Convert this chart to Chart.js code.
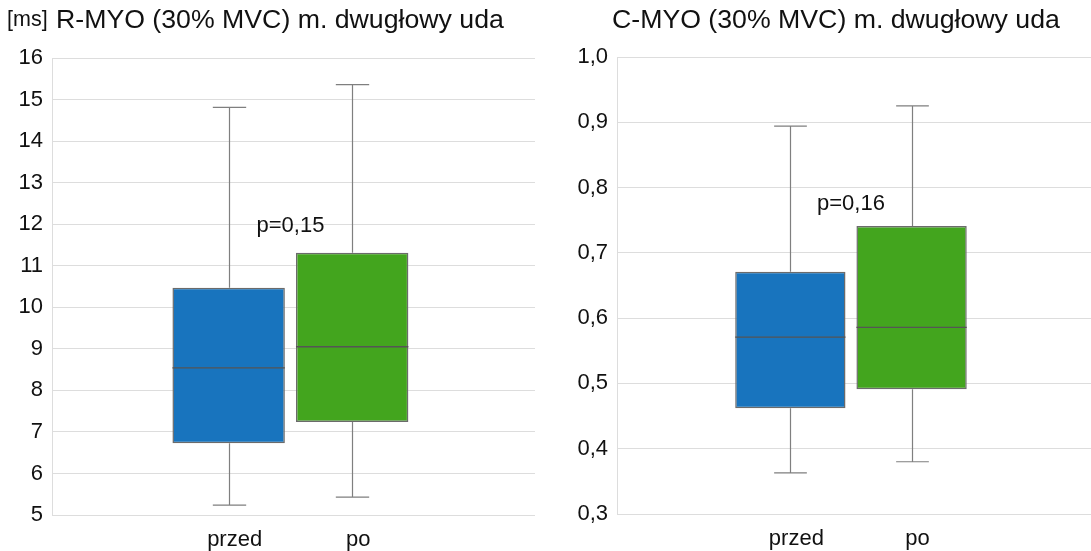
<!DOCTYPE html>
<html lang="pl">
<head>
<meta charset="utf-8">
<title>R-MYO / C-MYO m. dwugłowy uda</title>
<script src="https://cdn.jsdelivr.net/npm/chart.js@4.4.1/dist/chart.umd.min.js"></script>
<style>
    html, body { margin: 0; padding: 0; background: #fff; }
    #wrap { position: relative; width: 1091px; height: 551px; overflow: hidden; }
    #leftChart { position: absolute; left: 0; top: 0; }
    #rightChart { position: absolute; left: 545px; top: 0; }
</style>
</head>
<body>
<div id="wrap">
    <canvas id="leftChart" width="545" height="551"></canvas>
    <canvas id="rightChart" width="546" height="551"></canvas>
</div>
<script>
// Categories and box-plot statistics
const categories = ['przed', 'po'];

const rmyoMin = [5.24, 5.43];
const rmyoQ1 = [6.73, 7.24];
const rmyoMedian = [8.54, 9.05];
const rmyoQ3 = [10.47, 11.31];
const rmyoMax = [14.81, 15.36];

const cmyoMin = [0.363, 0.380];
const cmyoQ1 = [0.462, 0.491];
const cmyoMedian = [0.571, 0.586];
const cmyoQ3 = [0.671, 0.741];
const cmyoMax = [0.894, 0.925];

// Axis ranges / ticks
const rmyoTicks = { min: 5, max: 16, step: 1 };
const cmyoTicks = { min: 0.3, max: 1.0, step: 0.1 };

// Texts
const rmyoTitle = 'R-MYO (30% MVC) m. dwugłowy uda';
const rmyoUnit = '[ms]';
const cmyoTitle = 'C-MYO (30% MVC) m. dwugłowy uda';
const pLabels = ['p=0,15', 'p=0,16'];
const pLabelY = [11.95, 0.775];

const boxColors = ['#1874be', '#43a51e'];
const FONT = "'Liberation Sans', Arial, Helvetica, sans-serif";

// Whiskers, medians, titles and p-value label
const boxPlotPlugin = {
    id: 'boxPlot',
    beforeDatasetsDraw(chart, args, opts) {
        const ctx = chart.ctx;
        const x = chart.scales.x;
        const y = chart.scales.y;
        const capHalf = (x.getPixelForValue(1) - x.getPixelForValue(0)) * 0.135;
        ctx.save();
        ctx.strokeStyle = '#7f7f7f';
        ctx.lineWidth = 1.2;
        categories.forEach((c, i) => {
            const px = Math.round(x.getPixelForValue(i + 1)) + 0.5;
            ctx.beginPath();
            ctx.moveTo(px, y.getPixelForValue(opts.max[i]));
            ctx.lineTo(px, y.getPixelForValue(opts.q3[i]));
            ctx.moveTo(px, y.getPixelForValue(opts.q1[i]));
            ctx.lineTo(px, y.getPixelForValue(opts.min[i]));
            ctx.moveTo(px - capHalf, y.getPixelForValue(opts.max[i]));
            ctx.lineTo(px + capHalf, y.getPixelForValue(opts.max[i]));
            ctx.moveTo(px - capHalf, y.getPixelForValue(opts.min[i]));
            ctx.lineTo(px + capHalf, y.getPixelForValue(opts.min[i]));
            ctx.stroke();
        });
        ctx.restore();
    },
    afterDatasetsDraw(chart, args, opts) {
        const ctx = chart.ctx;
        const y = chart.scales.y;
        const meta = chart.getDatasetMeta(0);
        ctx.save();
        ctx.strokeStyle = '#555555';
        ctx.lineWidth = 1.3;
        meta.data.forEach((bar, i) => {
            const py = y.getPixelForValue(opts.median[i]);
            ctx.beginPath();
            ctx.moveTo(bar.x - bar.width / 2, py);
            ctx.lineTo(bar.x + bar.width / 2, py);
            ctx.stroke();
        });
        ctx.restore();
    },
    afterDraw(chart, args, opts) {
        const ctx = chart.ctx;
        const x = chart.scales.x;
        const y = chart.scales.y;
        ctx.save();
        ctx.fillStyle = '#111111';
        ctx.textBaseline = 'middle';
        ctx.textAlign = 'left';
        if (opts.unit) {
            ctx.font = '21.5px ' + FONT;
            ctx.fillText(opts.unit, opts.unitX, 20);
        }
        ctx.font = '26.7px ' + FONT;
        ctx.fillText(opts.title, opts.titleX, 21);

        ctx.textAlign = 'center';
        ctx.font = '22px ' + FONT;
        ctx.fillText(opts.pLabel, x.getPixelForValue(1.5), y.getPixelForValue(opts.pY));
        ctx.restore();
    }
};

function buildChart(canvasId, stats, range, tickFormat, layout, text) {
    const ctx = document.getElementById(canvasId).getContext('2d');
    return new Chart(ctx, {
        type: 'bar',
        data: {
            datasets: [{
                data: categories.map((c, i) => ({ x: i + 1, y: [stats.q1[i], stats.q3[i]] })),
                backgroundColor: boxColors,
                borderColor: '#6b6b6b',
                borderWidth: 1.5,
                borderSkipped: false,
                barPercentage: 0.91,
                categoryPercentage: 1
            }]
        },
        options: {
            responsive: false,
            animation: false,
            layout: { padding: layout.padding },
            scales: {
                x: {
                    type: 'linear',
                    offset: false,
                    bounds: 'data',
                    min: -0.43,
                    max: 3.48,
                    grid: { display: false, offset: false },
                    border: { display: false },
                    afterBuildTicks: scale => {
                        scale.ticks = categories.map((c, i) => ({ value: i + 1 }));
                    },
                    afterFit: scale => { scale.height = layout.xHeight; },
                    ticks: {
                        autoSkip: false,
                        maxRotation: 0,
                        padding: 4,
                        labelOffset: 6,
                        color: '#111111',
                        font: { family: FONT, size: 22 },
                        callback: value => categories[value - 1] || ''
                    }
                },
                y: {
                    min: range.min,
                    max: range.max,
                    grid: { color: '#dddddd', lineWidth: 1, drawTicks: false },
                    border: { display: true, color: '#dddddd' },
                    afterFit: scale => { scale.width = layout.yWidth; },
                    ticks: {
                        stepSize: range.step,
                        padding: 9,
                        color: '#111111',
                        font: { family: FONT, size: 22 },
                        callback: tickFormat
                    }
                }
            },
            plugins: {
                legend: { display: false },
                tooltip: { enabled: false },
                boxPlot: {
                    min: stats.min,
                    q1: stats.q1,
                    median: stats.median,
                    q3: stats.q3,
                    max: stats.max,
                    title: text.title,
                    titleX: text.titleX,
                    unit: text.unit,
                    unitX: 7,
                    pLabel: text.pLabel,
                    pY: text.pY
                }
            }
        },
        plugins: [boxPlotPlugin]
    });
}

document.addEventListener('DOMContentLoaded', () => {
    buildChart('leftChart',
        { min: rmyoMin, q1: rmyoQ1, median: rmyoMedian, q3: rmyoQ3, max: rmyoMax },
        rmyoTicks,
        value => String(Math.round(value)),
        { padding: { top: 58, right: 10, left: 0, bottom: 0 }, yWidth: 52, xHeight: 36 },
        { title: rmyoTitle, titleX: 56, unit: rmyoUnit, pLabel: pLabels[0], pY: pLabelY[0] }
    );
    buildChart('rightChart',
        { min: cmyoMin, q1: cmyoQ1, median: cmyoMedian, q3: cmyoQ3, max: cmyoMax },
        cmyoTicks,
        value => value.toFixed(1).replace('.', ','),
        { padding: { top: 57, right: 0, left: 0, bottom: 0 }, yWidth: 72, xHeight: 37 },
        { title: cmyoTitle, titleX: 67, unit: null, pLabel: pLabels[1], pY: pLabelY[1] }
    );
});
</script>
</body>
</html>
